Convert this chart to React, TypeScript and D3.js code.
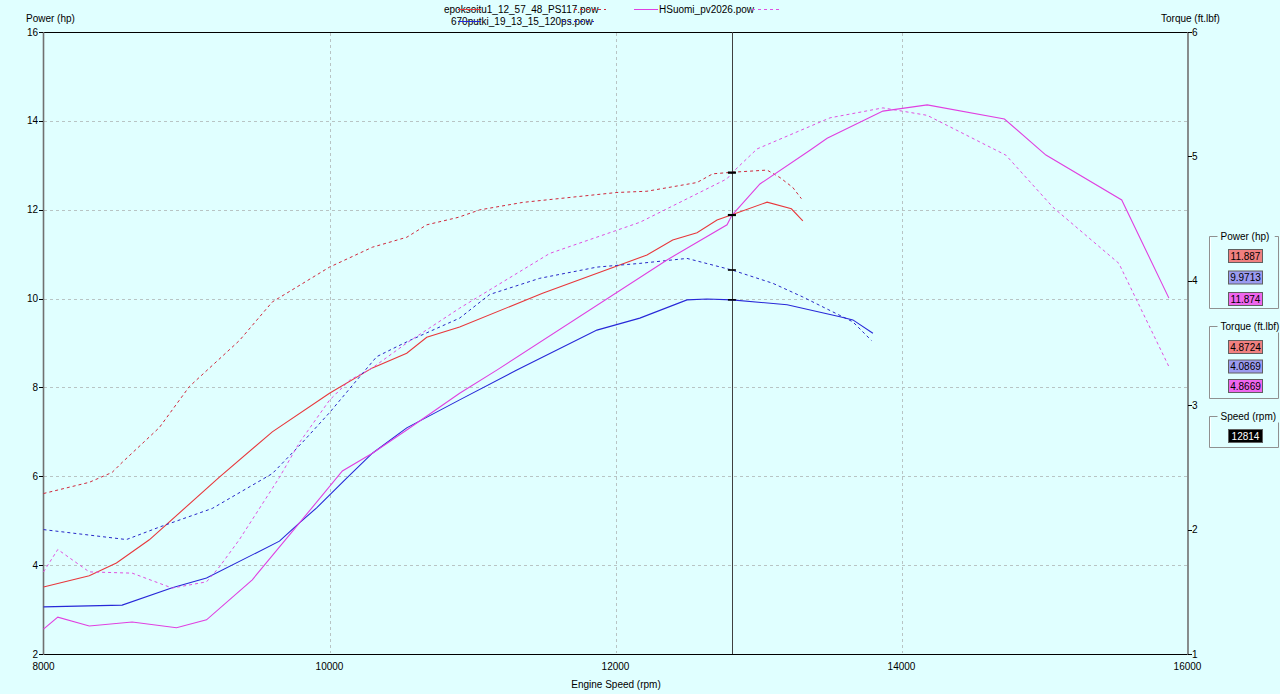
import * as d3 from 'd3';

// rpm / value pairs
const epoRpm = [8000, 8320, 8510, 8740, 9230, 9600, 10000, 10300, 10540, 10680, 10910, 11490, 12220, 12400, 12570, 12710, 12814, 13060, 13230, 13310];
const epoPower = [3.51, 3.76, 4.05, 4.57, 5.98, 7.0, 7.87, 8.44, 8.77, 9.13, 9.36, 10.12, 10.98, 11.32, 11.48, 11.77, 11.887, 12.17, 12.02, 11.75];
const epoTqRpm = [8000, 8320, 8480, 8550, 8810, 9020, 9370, 9600, 10000, 10300, 10540, 10680, 10900, 11050, 11350, 12010, 12220, 12570, 12680, 12814, 13060, 13150, 13240, 13300];
const epoTorque = [2.29, 2.38, 2.46, 2.54, 2.82, 3.15, 3.52, 3.83, 4.11, 4.27, 4.35, 4.45, 4.51, 4.57, 4.63, 4.71, 4.72, 4.79, 4.86, 4.8724, 4.89, 4.83, 4.75, 4.66];

const putkiRpm = [8000, 8550, 8900, 9140, 9650, 9790, 9910, 10120, 10300, 10540, 10910, 11310, 11870, 12170, 12500, 12640, 12814, 13200, 13570, 13660, 13800];
const putkiPower = [3.06, 3.10, 3.49, 3.71, 4.54, 4.95, 5.29, 5.96, 6.52, 7.09, 7.72, 8.39, 9.29, 9.56, 9.97, 9.99, 9.9713, 9.86, 9.59, 9.52, 9.22];
const putkiTqRpm = [8000, 8580, 8810, 9180, 9600, 9810, 10000, 10190, 10330, 10470, 10560, 10910, 11120, 11470, 11870, 12170, 12500, 12814, 13100, 13310, 13660, 13790];
const putkiTorque = [2.0, 1.92, 2.02, 2.17, 2.45, 2.70, 2.94, 3.20, 3.39, 3.47, 3.52, 3.70, 3.89, 4.02, 4.11, 4.14, 4.18, 4.0869, 3.98, 3.87, 3.67, 3.52];

const suomiRpm = [8000, 8100, 8320, 8620, 8930, 9140, 9460, 9790, 10090, 10300, 10540, 10910, 11170, 12360, 12780, 12814, 13010, 13360, 13480, 13870, 14180, 14720, 15010, 15540, 15870];
const suomiPower = [2.56, 2.83, 2.63, 2.72, 2.59, 2.77, 3.67, 4.95, 6.12, 6.52, 7.04, 7.87, 8.39, 10.87, 11.66, 11.874, 12.58, 13.34, 13.61, 14.22, 14.36, 14.04, 13.23, 12.22, 10.01];
const suomiTqRpm = [8000, 8100, 8320, 8620, 8900, 9140, 9230, 9370, 9650, 9790, 10000, 10140, 10300, 10540, 10910, 11540, 12170, 12780, 12814, 12990, 13500, 13870, 14180, 14730, 15060, 15520, 15870];
const suomiTorque = [1.66, 1.84, 1.66, 1.65, 1.53, 1.58, 1.70, 1.92, 2.42, 2.70, 3.04, 3.20, 3.30, 3.50, 3.78, 4.22, 4.47, 4.82, 4.8669, 5.06, 5.31, 5.39, 5.33, 5.01, 4.59, 4.14, 3.31];

const rpmTicks = [8000, 10000, 12000, 14000, 16000];
const powerTicks = [2, 4, 6, 8, 10, 12, 14, 16];
const torqueTicks = [1, 2, 3, 4, 5, 6];

const cursorRpm = 12814;
const cursorPower = ['11.887', '9.9713', '11.874'];
const cursorTorque = ['4.8724', '4.0869', '4.8669'];

const W = 1280;
const H = 694;
const FONT = '"Liberation Sans", Arial, sans-serif';

const x = d3.scaleLinear().domain([8000, 16000]).range([43.5, 1187.5]);
const yP = d3.scaleLinear().domain([2, 16]).range([654, 32]);
const yT = d3.scaleLinear().domain([1, 6]).range([654, 32]);

const series = [
  { name: 'epoksoitu1_12_57_48_PS117.pow', color: '#e8383c', tqColor: '#d0283c', rpm: epoRpm, power: epoPower, tqRpm: epoTqRpm, torque: epoTorque, box: '#f08080' },
  { name: '670putki_19_13_15_120ps.pow', color: '#2828d8', tqColor: '#2828c8', rpm: putkiRpm, power: putkiPower, tqRpm: putkiTqRpm, torque: putkiTorque, box: '#9b9bf0' },
  { name: 'HSuomi_pv2026.pow', color: '#e040e0', tqColor: '#e050e0', rpm: suomiRpm, power: suomiPower, tqRpm: suomiTqRpm, torque: suomiTorque, box: '#ee66ee' },
];

const pathOf = (xs: number[], ys: number[], sy: d3.ScaleLinear<number, number>) =>
  d3.line<number>().x((_, i) => x(xs[i])).y((v) => sy(v))(ys) || '';

function GroupBox({ top, bottom, title }: { top: number; bottom: number; title: string }) {
  const left = 1209.5;
  const right = 1278.5;
  return (
    <g>
      <path d={`M${left + 8},${top}H${left}V${bottom}H${right}V${top}H${right - 4}`} fill="none" stroke="#909090" />
      <path d={`M${left + 1},${top + 1}V${bottom - 1}`} fill="none" stroke="#ffffff" />
      <rect x={left + 9} y={top - 6} width={title.length * 5.2 + 4} height={12} fill="#e0ffff" />
      <text x={left + 11} y={top + 3.5} fontSize={10} fontFamily={FONT} fill="#000">{title}</text>
    </g>
  );
}

function ValueBox({ y, fill, text, color = '#000' }: { y: number; fill: string; text: string; color?: string }) {
  return (
    <g>
      <rect x={1228.5} y={y + 0.5} width={34} height={13} fill={fill} stroke="#606060" />
      <text x={1245.5} y={y + 10.5} textAnchor="middle" fontSize={10} fontFamily={FONT} fill={color}>{text}</text>
    </g>
  );
}

export default function App() {
  const cx = x(cursorRpm);
  return (
    <div style={{ position: 'fixed', left: 0, top: 0 }}>
      <svg width={W} height={H} style={{ display: 'block' }}>
        <rect width={W} height={H} fill="#e0ffff" />

        {/* grid */}
        {powerTicks.slice(1, -1).map((t) => (
          <line key={'gy' + t} x1={44} x2={1187} y1={Math.round(yP(t)) + 0.5} y2={Math.round(yP(t)) + 0.5} stroke="#b8c4c4" strokeDasharray="3,3" />
        ))}
        {rpmTicks.slice(1, -1).map((t) => (
          <line key={'gx' + t} x1={Math.round(x(t)) + 0.5} x2={Math.round(x(t)) + 0.5} y1={33} y2={653} stroke="#b8c4c4" strokeDasharray="3,3" />
        ))}

        {/* frame */}
        <line x1={43} x2={1188} y1={32.5} y2={32.5} stroke="#000" />
        <line x1={43} x2={1188} y1={654.5} y2={654.5} stroke="#000" />
        <line x1={43.5} x2={43.5} y1={32} y2={655} stroke="#707070" strokeWidth={1.6} />
        <line x1={1188} x2={1188} y1={32} y2={655} stroke="#707070" strokeWidth={1.6} />

        {/* left ticks */}
        {powerTicks.map((t) => (
          <g key={'pt' + t}>
            <line x1={39} x2={43} y1={Math.round(yP(t)) + 0.5} y2={Math.round(yP(t)) + 0.5} stroke="#000" />
            <text x={38} y={yP(t) + 3.5} textAnchor="end" fontSize={10} fontFamily={FONT}>{t}</text>
          </g>
        ))}
        {/* right ticks */}
        {torqueTicks.map((t) => (
          <g key={'tt' + t}>
            <line x1={1188} x2={1192} y1={Math.round(yT(t)) + 0.5} y2={Math.round(yT(t)) + 0.5} stroke="#000" />
            <text x={1192} y={yT(t) + 3.5} fontSize={10} fontFamily={FONT}>{t}</text>
          </g>
        ))}
        {/* x ticks */}
        {rpmTicks.map((t) => (
          <text key={'xt' + t} x={x(t)} y={670} textAnchor="middle" fontSize={10} fontFamily={FONT}>{t}</text>
        ))}

        <text x={26} y={22} fontSize={10} fontFamily={FONT}>Power (hp)</text>
        <text x={1161} y={22} fontSize={10} fontFamily={FONT}>Torque (ft.lbf)</text>
        <text x={616} y={688} textAnchor="middle" fontSize={10} fontFamily={FONT}>Engine Speed (rpm)</text>

        {/* cursor */}
        <line x1={Math.round(cx) + 0.5} x2={Math.round(cx) + 0.5} y1={32} y2={654} stroke="#404040" />

        {/* curves */}
        {series.map((s) => (
          <g key={s.name} fill="none">
            <path d={pathOf(s.tqRpm, s.torque, yT)} stroke={s.tqColor} strokeWidth={1} strokeDasharray="3,3" />
            <path d={pathOf(s.rpm, s.power, yP)} stroke={s.color} strokeWidth={1.1} />
          </g>
        ))}

        {/* cursor markers */}
        {series.map((s, i) => (
          <g key={'cm' + s.name}>
            <line x1={cx - 4} x2={cx + 4} y1={yP(+cursorPower[i])} y2={yP(+cursorPower[i])} stroke="#000" strokeWidth={1.6} />
            <line x1={cx - 4} x2={cx + 4} y1={yT(+cursorTorque[i])} y2={yT(+cursorTorque[i])} stroke="#000" strokeWidth={1.6} />
          </g>
        ))}

        {/* legend */}
        <g fontSize={10} fontFamily={FONT}>
          <text x={444} y={13}>{series[0].name}</text>
          <line x1={458} x2={481} y1={9.5} y2={9.5} stroke={series[0].color} />
          <line x1={574} x2={606} y1={9.5} y2={9.5} stroke={series[0].tqColor} strokeDasharray="3,3" />
          <text x={451} y={25}>{series[1].name}</text>
          <line x1={458} x2={481} y1={21.5} y2={21.5} stroke={series[1].color} />
          <line x1={562} x2={594} y1={21.5} y2={21.5} stroke={series[1].tqColor} strokeDasharray="3,3" />
          <line x1={634} x2={658} y1={9.5} y2={9.5} stroke={series[2].color} />
          <text x={659} y={13}>{series[2].name}</text>
          <line x1={752} x2={782} y1={9.5} y2={9.5} stroke={series[2].tqColor} strokeDasharray="3,3" />
        </g>

        {/* value panel */}
        <GroupBox top={236.5} bottom={308.5} title="Power (hp)" />
        {series.map((s, i) => (
          <ValueBox key={'pv' + i} y={249 + i * 21.5} fill={s.box} text={cursorPower[i]} />
        ))}
        <GroupBox top={326.5} bottom={398.5} title="Torque (ft.lbf)" />
        {series.map((s, i) => (
          <ValueBox key={'tv' + i} y={340 + i * 19.5} fill={s.box} text={cursorTorque[i]} />
        ))}
        <GroupBox top={416.5} bottom={447.5} title="Speed (rpm)" />
        <ValueBox y={429} fill="#000" text={String(cursorRpm)} color="#fff" />
      </svg>
    </div>
  );
}
